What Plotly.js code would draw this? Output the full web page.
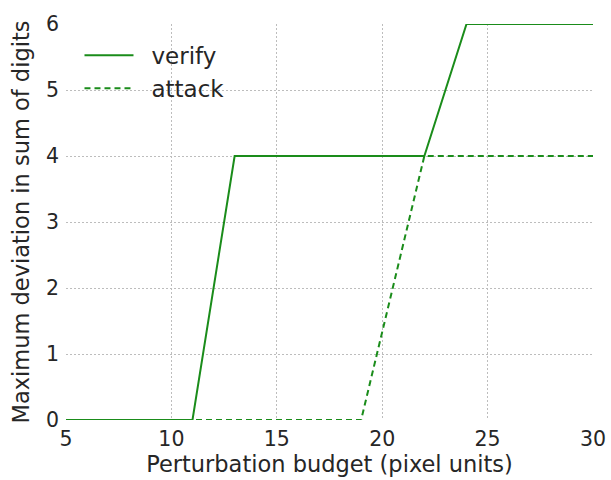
<!DOCTYPE html>
<html><head><meta charset="utf-8">
<script src="https://cdn.plot.ly/plotly-3.0.1.min.js"></script>
<style>html,body{margin:0;padding:0;background:#fff}#chart{width:611px;height:480px}</style>
</head><body><div id="chart"></div>
<script>
const verifyX = [5, 11, 13, 22, 24, 30];
const verifyY = [0, 0, 4, 4, 6, 6];
const attackX = [5, 19, 22, 30];
const attackY = [0, 0, 4, 4];
const xTicks = [5, 10, 15, 20, 25, 30];
const yTicks = [0, 1, 2, 3, 4, 5, 6];
const green = '#1a8c1a';
const txt = '#262626';
const data = [
  {x: verifyX, y: verifyY, name: 'verify', legendgroup: 'a', mode: 'lines', line: {color: green, width: 2}, cliponaxis: false},
  {x: attackX, y: attackY, name: 'attack', legendgroup: 'b', mode: 'lines', line: {color: green, width: 2, dash: '6px,4px'}, cliponaxis: false}
];
const layout = {
  width: 611, height: 480,
  margin: {l: 66, r: 18, t: 24, b: 60},
  paper_bgcolor: '#fff', plot_bgcolor: '#fff',
  font: {family: 'DejaVu Sans', color: txt, size: 20.5},
  showlegend: true,
  legend: {x: 0.0256, y: 0.975, xanchor: 'left', yanchor: 'top', bgcolor: 'rgba(0,0,0,0)', font: {size: 23},
    traceorder: 'grouped', tracegroupgap: 0, itemwidth: 62},
  xaxis: {range: [5, 30], tickvals: xTicks, showline: false, zeroline: false, showgrid: true,
    gridcolor: '#bdbdbd', griddash: '1.5px,2.5px', gridwidth: 1, ticks: '', ticklabelstandoff: 4,
    title: {text: 'Perturbation budget (pixel units)', font: {size: 22.5}, standoff: 6}, tickfont: {size: 20.5}},
  yaxis: {range: [0, 6], tickvals: yTicks, showline: false, zeroline: false, showgrid: true,
    gridcolor: '#bdbdbd', griddash: '1.5px,2.5px', gridwidth: 1, ticks: '', ticklabelstandoff: 6,
    title: {text: 'Maximum deviation in sum of digits', font: {size: 22.5}, standoff: 10}, tickfont: {size: 20.5}}
};
Plotly.newPlot('chart', data, layout, {displayModeBar: false, staticPlot: true}).then(function (gd) {
  gd.querySelectorAll('.legend .legendlines path').forEach(function (p) { p.setAttribute('d', 'M5,0h49'); });
});
</script></body></html>
